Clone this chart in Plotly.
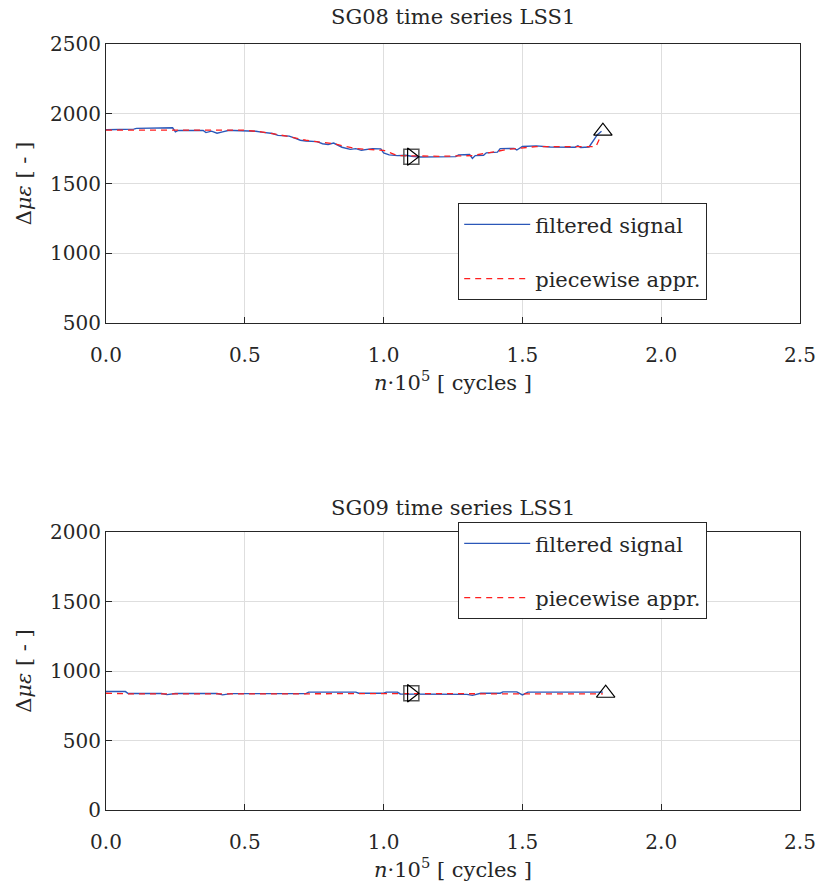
import plotly.graph_objects as go

# ---- SG08: filtered strain signal and its piecewise approximation ----
sg08_n = [0.00, 0.02, 0.03, 0.10, 0.11, 0.16, 0.17, 0.24, 0.25, 0.26, 0.35, 0.36, 0.38,
          0.40, 0.42, 0.44, 0.46, 0.50, 0.54, 0.56, 0.60, 0.62, 0.66, 0.68, 0.70, 0.72,
          0.76, 0.78, 0.80, 0.82, 0.85, 0.88, 0.90, 0.92, 0.94, 0.96, 0.99, 1.00, 1.02,
          1.05, 1.08, 1.10, 1.13, 1.18, 1.20, 1.26, 1.27, 1.31, 1.32, 1.33, 1.36, 1.37,
          1.41, 1.42, 1.47, 1.48, 1.50, 1.55, 1.60, 1.65, 1.69, 1.70, 1.71, 1.74, 1.75,
          1.76, 1.77, 1.785]
sg08_filt = [1885, 1885, 1890, 1890, 1895, 1895, 1900, 1900, 1870, 1880, 1880, 1865, 1875,
             1860, 1870, 1880, 1880, 1878, 1875, 1868, 1858, 1845, 1840, 1825, 1810, 1805,
             1800, 1785, 1780, 1790, 1760, 1745, 1750, 1738, 1745, 1750, 1748, 1720, 1705,
             1700, 1702, 1695, 1690, 1692, 1695, 1693, 1705, 1708, 1680, 1700, 1702, 1720,
             1725, 1750, 1752, 1740, 1765, 1770, 1762, 1760, 1760, 1770, 1758, 1762, 1795,
             1820, 1850, 1875]
sg08_pw_n = [0.00, 0.50, 0.56, 0.65, 0.72, 0.82, 0.90, 1.00, 1.05, 1.20, 1.32, 1.45, 1.55, 1.765, 1.78]
sg08_pw = [1882, 1882, 1870, 1840, 1810, 1785, 1750, 1738, 1700, 1695, 1700, 1745, 1765, 1765, 1830]
sg08_mid = (1.10, 1692)
sg08_end = (1.79, 1875)

# ---- SG09 ----
sg09_n = [0.00, 0.07, 0.08, 0.20, 0.22, 0.25, 0.40, 0.42, 0.45, 0.72, 0.73, 0.90, 0.91,
          1.00, 1.01, 1.05, 1.06, 1.10, 1.12, 1.30, 1.32, 1.35, 1.42, 1.43, 1.48, 1.50,
          1.52, 1.79]
sg09_filt = [852, 852, 838, 838, 830, 838, 838, 828, 837, 837, 848, 848, 840,
             840, 848, 848, 835, 835, 832, 832, 825, 840, 840, 850, 850, 828,
             848, 848]
sg09_pw_n = [0.00, 0.10, 0.50, 1.00, 1.10, 1.50, 1.79]
sg09_pw = [840, 835, 835, 838, 838, 835, 835]
sg09_mid = (1.10, 840)
sg09_end = (1.80, 840)

x_ticks = [0.0, 0.5, 1.0, 1.5, 2.0, 2.5]
sg08_yticks = [500, 1000, 1500, 2000, 2500]
sg09_yticks = [0, 500, 1000, 1500, 2000]

FONT = "DejaVu Serif"
FS = 21       # titles, legend, axis titles
FS_TICK = 20  # tick labels
TXT = "#262626"
BLUE = "#2b57b8"
RED = "#ff1f1f"
W, H = 821, 890

fig = go.Figure()

panels = [
    dict(n=sg08_n, f=sg08_filt, pn=sg08_pw_n, p=sg08_pw, mid=sg08_mid, end=sg08_end,
         xa="x", ya="y", legend="legend"),
    dict(n=sg09_n, f=sg09_filt, pn=sg09_pw_n, p=sg09_pw, mid=sg09_mid, end=sg09_end,
         xa="x2", ya="y2", legend="legend2"),
]

for pnl in panels:
    fig.add_trace(go.Scatter(x=pnl["n"], y=pnl["f"], mode="lines", name="filtered signal",
                             line=dict(color=BLUE, width=1.4), xaxis=pnl["xa"], yaxis=pnl["ya"],
                             legend=pnl["legend"], legendgroup="a"))
    fig.add_trace(go.Scatter(x=pnl["pn"], y=pnl["p"], mode="lines", name="piecewise appr.",
                             line=dict(color=RED, width=1.3, dash="6px,5px"),
                             xaxis=pnl["xa"], yaxis=pnl["ya"],
                             legend=pnl["legend"], legendgroup="b"))
    fig.add_trace(go.Scatter(x=[pnl["mid"][0]], y=[pnl["mid"][1]], mode="markers",
                             marker=dict(symbol="square-open", size=15, color="#555555",
                                         line=dict(width=1.5)),
                             xaxis=pnl["xa"], yaxis=pnl["ya"], showlegend=False))
    fig.add_trace(go.Scatter(x=[pnl["mid"][0]], y=[pnl["mid"][1]], mode="markers",
                             marker=dict(symbol="triangle-right-open", size=15, color="black",
                                         line=dict(width=1.2)),
                             xaxis=pnl["xa"], yaxis=pnl["ya"], showlegend=False))
    fig.add_trace(go.Scatter(x=[pnl["end"][0]], y=[pnl["end"][1]], mode="markers",
                             marker=dict(symbol="triangle-up-open", size=16, color="black",
                                         line=dict(width=1.2)),
                             xaxis=pnl["xa"], yaxis=pnl["ya"], showlegend=False))

x0, x1 = 106 / W, 800 / W
top_dom = [1 - 323 / H, 1 - 44 / H]
bot_dom = [1 - 810 / H, 1 - 532 / H]

common_x = dict(range=[0, 2.5], tickvals=x_ticks, tickformat=".1f", showgrid=True,
                gridcolor="#dedede", gridwidth=1, zeroline=False, showline=True,
                linecolor=TXT, linewidth=1.2, mirror=True, ticks="inside", ticklen=6,
                tickcolor=TXT, tickfont=dict(family=FONT, size=FS_TICK, color=TXT),
                ticklabelstandoff=14, domain=[x0, x1], automargin=False,
                title=dict(text="<i>n</i>·10<sup>5</sup> [ cycles ]",
                           font=dict(family=FONT, size=FS, color=TXT), standoff=8))
common_y = dict(showgrid=True, gridcolor="#dedede", gridwidth=1, zeroline=False,
                showline=True, linecolor=TXT, linewidth=1.2, mirror=True,
                ticks="inside", ticklen=6, tickcolor=TXT, automargin=False,
                tickfont=dict(family=FONT, size=FS_TICK, color=TXT),
                title=dict(text="Δ<i>με</i> [ - ]", font=dict(family=FONT, size=FS, color=TXT),
                           standoff=12))

legend_style = dict(xanchor="left", yanchor="top", bordercolor=TXT, borderwidth=1.2,
                    bgcolor="white", font=dict(family=FONT, size=FS, color=TXT),
                    tracegroupgap=24, itemwidth=66)

fig.update_layout(
    width=W, height=H, margin=dict(l=0, r=0, t=0, b=0, autoexpand=False),
    paper_bgcolor="white", plot_bgcolor="white",
    xaxis=dict(common_x, anchor="y"),
    yaxis=dict(common_y, range=[500, 2500], tickvals=sg08_yticks, domain=top_dom, anchor="x"),
    xaxis2=dict(common_x, anchor="y2"),
    yaxis2=dict(common_y, range=[0, 2000], tickvals=sg09_yticks, domain=bot_dom, anchor="x2"),
    legend=dict(legend_style, x=458 / W, y=1 - 203 / H),
    legend2=dict(legend_style, x=458 / W, y=1 - 522 / H),
    showlegend=True,
    annotations=[
        dict(text="SG08 time series LSS1", x=(x0 + x1) / 2, y=1 - 17 / H, xref="paper",
             yref="paper", yanchor="middle", showarrow=False,
             font=dict(family=FONT, size=FS, color=TXT)),
        dict(text="SG09 time series LSS1", x=(x0 + x1) / 2, y=1 - 508 / H, xref="paper",
             yref="paper", yanchor="middle", showarrow=False,
             font=dict(family=FONT, size=FS, color=TXT)),
    ],
)

fig.write_html("out.html")
